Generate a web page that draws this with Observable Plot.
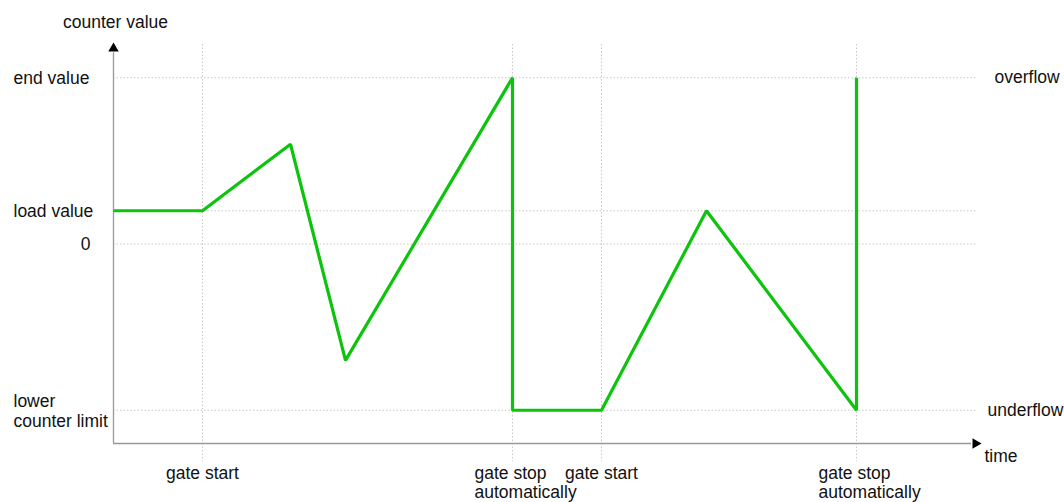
<!DOCTYPE html>
<html>
<head>
<meta charset="utf-8">
<script src="https://cdn.jsdelivr.net/npm/d3@7"></script>
<script src="https://cdn.jsdelivr.net/npm/@observablehq/plot@0.6"></script>
<style>
  body { margin: 0; background: #fff; }
  svg { font-family: "Liberation Sans", Arial, sans-serif; }
</style>
</head>
<body>
<div id="chart"></div>
<script>
// Counter value trace (time units, counter units)
const traceTime  = [0, 8.9, 17.7, 23.2, 39.9, 39.9, 48.8, 59.3, 74.3, 74.3];
const traceValue = [1, 1,   3,   -3.5,  5,   -5,   -5,   1,    -5,   5];

// Y reference levels and their labels
const levelValues = [5, 1, 0, -5];
const levelLabels = ["end value", "load value", "0", "lower\ncounter limit"];

// X event markers and their labels
const eventTimes  = [8.9, 39.9, 48.8, 74.3];
const eventLabels = ["gate start", "gate stop\nautomatically", "gate start", "gate stop\nautomatically"];

// Right-side labels
const rightLabels = ["overflow", "underflow"];
const rightValues = [5, -5];

const xMin = 0, xMax = 86.5, yMin = -6, yMax = 6;

const trace = traceTime.map((t, i) => ({t, v: traceValue[i]}));
const levels = levelValues.map((v, i) => ({v, label: levelLabels[i]}));
const events = eventTimes.map((t, i) => ({t, label: eventLabels[i]}));
const rights = rightValues.map((v, i) => ({v, label: rightLabels[i]}));

const font = 17.5;
const ink = "#111";
const chart = Plot.plot({
  width: 1064,
  height: 502,
  marginLeft: 113,
  marginRight: 86,
  marginTop: 44,
  marginBottom: 59,
  x: {domain: [xMin, xMax], axis: null},
  y: {domain: [yMin, yMax], axis: null},
  style: {fontSize: font + "px", fontFamily: '"Liberation Sans", Arial, sans-serif', color: ink, overflow: "visible"},
  marks: [
    // dotted grid
    Plot.ruleY(levels, {y: "v", x1: xMin, x2: 86.4, stroke: "#c8c8c8", strokeWidth: 1, strokeDasharray: "1.5,2"}),
    Plot.ruleX(events, {x: "t", y1: yMax, y2: -6.55, stroke: "#c8c8c8", strokeWidth: 1, strokeDasharray: "1.5,2"}),
    // axes
    Plot.ruleX([xMin], {y1: yMin, y2: 5.75, stroke: "#999", strokeWidth: 1.3}),
    Plot.ruleY([yMin], {x1: xMin, x2: 85.8, stroke: "#999", strokeWidth: 1.3}),
    Plot.dot([{x: xMin, y: 5.88}], {x: "x", y: "y", symbol: "triangle2", r: 5, fill: "#000", stroke: null}),
    Plot.dot([{x: 86.2, y: yMin}], {x: "x", y: "y", symbol: "triangle2", r: 5, fill: "#000", stroke: null, rotate: 90}),
    // trace
    Plot.line(trace, {x: "t", y: "v", stroke: "#0cc40c", strokeWidth: 3.2, strokeLinejoin: "miter", strokeLinecap: "butt"}),
    // left labels
    Plot.text(levels.filter(d => d.label !== "0"), {x: xMin, y: "v", text: "label", textAnchor: "start", dx: -100, lineHeight: 1.15, fill: ink}),
    Plot.text(levels.filter(d => d.label === "0"), {x: xMin, y: "v", text: "label", textAnchor: "end", dx: -23, fill: ink}),
    Plot.text(["counter value"], {x: xMin, y: yMax, dy: -22, dx: 2, text: d => d, fill: ink}),
    // right labels
    Plot.text(rights.filter(d => d.label === "overflow"), {x: xMax, y: "v", text: "label", textAnchor: "start", dx: 16, fill: ink}),
    Plot.text(rights.filter(d => d.label === "underflow"), {x: xMax, y: "v", text: "label", textAnchor: "start", dx: 9, fill: ink}),
    Plot.text(["time"], {x: xMax, y: yMin, dx: 6, dy: 13, text: d => d, textAnchor: "start", fill: ink}),
    // bottom labels
    Plot.text(events.filter(d => d.label === "gate start"), {x: "t", y: yMin, dy: 30, text: "label", textAnchor: "middle", fill: ink}),
    Plot.text(events.filter(d => d.label !== "gate start"), {x: "t", y: yMin, dy: 21, dx: -38, text: "label", textAnchor: "start", lineAnchor: "top", lineHeight: 1.13, fill: ink})
  ]
});
document.getElementById("chart").appendChild(chart);
</script>
</body>
</html>
